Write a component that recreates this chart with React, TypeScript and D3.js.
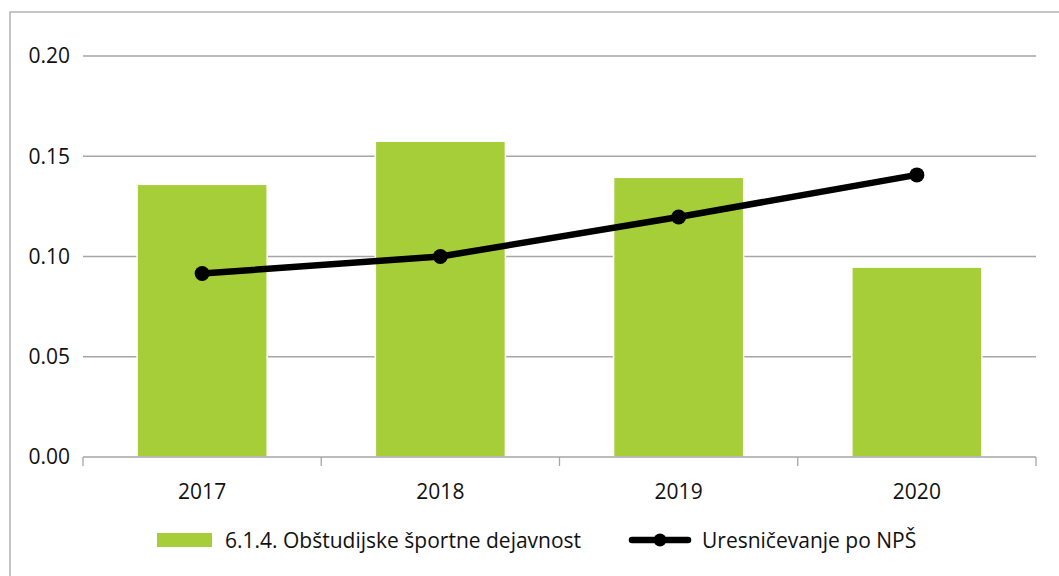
import React from "react";
import * as d3 from "d3";

const categories = ["2017", "2018", "2019", "2020"];
const barValues = [0.136, 0.1575, 0.1395, 0.0947];
const lineValues = [0.0915, 0.1, 0.1197, 0.1407];
const yTicks = [0, 0.05, 0.1, 0.15, 0.2];
const barLabel = "6.1.4. Obštudijske športne dejavnost";
const lineLabel = "Uresničevanje po NPŠ";

const W = 1059;
const H = 576;
const left = 83;
const right = 1036;
const top = 56;
const bottom = 457;
const font = "'Open Sans', sans-serif";
const green = "#a6ce39";

export default function App() {
  const x = d3.scaleBand<string>().domain(categories).range([left, right]).padding(0);
  const y = d3.scaleLinear().domain([0, 0.2]).range([bottom, top]);
  const bw = x.bandwidth() * 0.546;
  const cx = (c: string) => (x(c) as number) + x.bandwidth() / 2;
  const line = d3
    .line<number>()
    .x((_, i) => cx(categories[i]))
    .y((d) => y(d));
  const boundaries = categories.map((c) => x(c) as number).concat([right]);

  return (
    <svg
      width={W}
      height={H}
      style={{ position: "absolute", left: 0, top: 0, background: "#fff" }}
      fontFamily={font}
    >
      <rect x={10} y={12} width={1200} height={800} fill="#fff" stroke="#b3b3b3" strokeWidth={1.5} />
      {yTicks.map((t) => (
        <g key={t}>
          {t > 0 && (
            <line x1={left} x2={right} y1={y(t)} y2={y(t)} stroke="#a6a6a6" strokeWidth={1.3} />
          )}
          <text x={70} y={y(t)} dy="0.35em" textAnchor="end" fontSize={21} fill="#111">
            {t.toFixed(2)}
          </text>
        </g>
      ))}
      {categories.map((c, i) => (
        <rect
          key={c}
          x={cx(c) - bw / 2}
          y={y(barValues[i])}
          width={bw}
          height={bottom - y(barValues[i])}
          fill={green}
          stroke="#fff"
          strokeWidth={1.5}
        />
      ))}
      <line x1={left} x2={right} y1={bottom} y2={bottom} stroke="#a6a6a6" strokeWidth={1.3} />
      {boundaries.map((b, i) => (
        <line key={i} x1={b} x2={b} y1={bottom} y2={bottom + 9} stroke="#a6a6a6" strokeWidth={1.3} />
      ))}
      {categories.map((c) => (
        <text key={c} x={cx(c)} y={bottom + 42} textAnchor="middle" fontSize={21} fill="#111">
          {c}
        </text>
      ))}
      <path d={line(lineValues) as string} fill="none" stroke="#000" strokeWidth={6.5} strokeLinejoin="round" />
      {lineValues.map((v, i) => (
        <circle key={i} cx={cx(categories[i])} cy={y(v)} r={7.5} fill="#000" />
      ))}
      <rect x={157} y={533} width={55} height={14} fill={green} />
      <text x={225} y={548} fontSize={21} fill="#111">
        {barLabel}
      </text>
      <line x1={632} x2={688} y1={540} y2={540} stroke="#000" strokeWidth={6.5} strokeLinecap="round" />
      <circle cx={660} cy={540} r={6.5} fill="#000" />
      <text x={702} y={548} fontSize={21} fill="#111">
        {lineLabel}
      </text>
    </svg>
  );
}
